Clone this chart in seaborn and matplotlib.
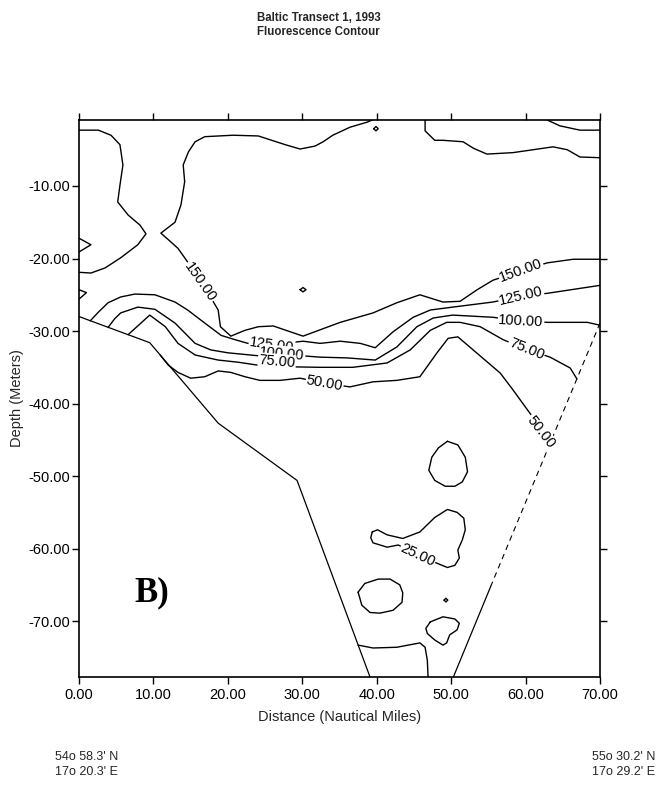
import matplotlib
matplotlib.use("Agg")
import matplotlib.pyplot as plt
import numpy as np
import pandas as pd
import seaborn as sns

# ---------------------------------------------------------------
# Baltic transect 1 (1993): fluorescence isolines along the section
# distance in nautical miles, depth in metres (negative down)
# ---------------------------------------------------------------

levels = [25, 50, 75, 100, 125, 150]

x_ticks = [0, 10, 20, 30, 40, 50, 60, 70]
y_ticks = [-10, -20, -30, -40, -50, -60, -70]

# sea floor along the western and eastern flanks of the section
seafloor_west_dist = [0.0, 9.5, 18.7, 29.3, 39.1]
seafloor_west_depth = [-28.0, -31.6, -42.7, -50.6, -77.7]
seafloor_east_dist = [70.0, 55.4, 50.3]
seafloor_east_depth = [-28.9, -65.0, -77.7]

# 150 isolines
iso150_west_x = [0.0, 2.6, 4.3, 5.5, 5.9, 5.5, 5.2, 6.6, 8.2, 9.0, 7.9, 5.6, 3.5, 1.6, 0.0]
iso150_west_y = [-2.3, -2.3, -3.0, -4.3, -7.1, -9.9, -12.2, -14.0, -15.4, -16.6, -18.1, -19.9, -21.3, -22.0, -21.9]
iso150_main_x = [39.4, 38.7, 36.4, 34.1, 32.8, 31.7, 29.7, 27.7, 24.1, 20.7, 16.9, 15.6, 14.7, 14.0,
                 14.2, 13.7, 12.9, 11.0, 12.0, 13.3, 14.2, 16.5, 18.7, 19.0, 20.4, 22.3, 24.1, 26.1,
                 30.1, 35.1, 39.5, 42.7, 45.8, 48.9, 51.2, 53.5, 55.6, 59.4, 62.9, 66.4, 70.0]
iso150_main_y = [-0.9, -1.2, -1.9, -3.0, -3.9, -4.5, -4.9, -4.3, -3.1, -3.0, -3.2, -3.9, -5.3, -7.1,
                 -9.4, -12.6, -15.0, -16.5, -17.4, -18.6, -19.9, -23.3, -27.1, -29.4, -30.7, -29.9, -29.4, -29.3,
                 -30.7, -28.8, -27.5, -26.1, -25.0, -26.0, -25.9, -24.3, -23.0, -21.7, -20.6, -20.1, -20.1]
iso150_east_x = [46.5, 46.5, 47.8, 48.9, 51.6, 53.0, 54.8, 58.3, 63.7, 65.6, 67.3, 70.0]
iso150_east_y = [-0.9, -2.4, -3.7, -3.7, -3.9, -4.8, -5.6, -5.4, -4.6, -5.0, -6.0, -6.1]
iso150_notch1_x = [0.0, 1.6, 0.0]
iso150_notch1_y = [-17.2, -18.1, -19.1]
iso150_notch2_x = [0.0, 1.0, 0.0]
iso150_notch2_y = [-24.3, -24.7, -25.6]
iso150_spot1_x = [39.6, 39.9, 40.2, 39.9]
iso150_spot1_y = [-2.1, -1.8, -2.1, -2.4]
iso150_spot2_x = [29.7, 30.1, 30.5, 30.1]
iso150_spot2_y = [-24.3, -24.0, -24.3, -24.6]

# 125 isolines
iso125_corner_x = [62.9, 64.6, 67.3, 70.0]
iso125_corner_y = [-0.9, -1.7, -2.3, -2.3]
iso125_x = [1.5, 2.6, 3.9, 5.6, 7.5, 10.2, 12.9, 14.6, 16.9, 19.1, 21.0, 22.7, 25.9, 30.1, 32.4,
            35.1, 37.8, 39.8, 42.2, 44.9, 47.2, 50.2, 55.6, 59.4, 62.9, 70.0]
iso125_y = [-28.6, -27.4, -26.1, -25.3, -24.9, -25.0, -26.0, -27.1, -28.9, -30.6, -31.2, -31.7, -31.9, -31.4, -31.7,
            -31.4, -31.7, -32.3, -30.1, -28.1, -27.1, -26.7, -26.0, -25.2, -24.8, -23.7]

# 100 isoline
iso100_x = [3.9, 4.8, 5.6, 7.9, 10.2, 12.9, 15.6, 17.7, 20.0, 24.0, 27.3, 32.4, 36.0, 39.8,
            42.7, 45.4, 47.6, 50.2, 55.6, 59.4, 62.9, 68.3, 70.0]
iso100_y = [-29.5, -28.3, -27.5, -26.7, -27.0, -28.9, -31.7, -32.6, -33.0, -33.4, -33.2, -33.6, -33.7, -34.0,
            -32.2, -29.4, -28.2, -27.8, -28.1, -28.6, -28.8, -28.8, -29.2]

# 75 isoline
iso75_x = [6.6, 9.5, 11.6, 13.3, 15.6, 18.7, 21.4, 24.0, 26.6, 32.4, 36.8, 41.4, 44.5, 47.2,
           49.4, 51.2, 53.9, 57.0, 60.1, 63.3, 66.0, 66.9]
iso75_y = [-30.5, -27.8, -29.4, -31.7, -33.3, -34.0, -34.3, -34.7, -34.9, -35.0, -35.0, -34.4, -32.6, -29.9,
           -28.8, -28.8, -29.4, -31.2, -32.5, -33.6, -35.1, -36.6]

# 50 isoline
iso50_x = [10.9, 12.0, 13.3, 15.0, 16.9, 18.7, 20.4, 22.3, 24.3, 27.0, 29.7, 33.0, 36.4, 39.5,
           42.7, 45.8, 48.1, 49.6, 50.9, 52.5, 56.6, 58.3, 59.5, 61.2, 63.4]
iso50_y = [-33.3, -34.7, -35.7, -36.5, -36.3, -35.5, -35.7, -36.3, -36.8, -36.8, -36.5, -37.2, -37.7, -37.0,
           -36.8, -36.3, -33.0, -31.0, -30.8, -32.2, -35.8, -38.1, -39.8, -42.2, -45.3]

# 25 isolines (deep patches)
iso25_patch1_x = [49.5, 50.9, 51.9, 52.2, 51.5, 50.5, 49.2, 47.8, 47.0, 47.4, 48.3]
iso25_patch1_y = [-45.2, -45.7, -47.4, -49.4, -50.8, -51.4, -51.4, -50.6, -49.2, -47.4, -46.1]
iso25_patch2_x = [39.4, 40.1, 41.4, 43.5, 45.8, 47.8, 49.5, 50.8, 51.7, 51.9, 51.5, 50.9, 51.1, 50.5,
                  49.5, 48.3, 45.6, 42.9, 41.4, 39.5, 39.2]
iso25_patch2_y = [-57.7, -57.4, -58.1, -58.6, -57.7, -55.7, -54.6, -55.0, -55.8, -57.4, -58.8, -60.2, -61.3, -62.3,
                  -62.6, -62.1, -60.9, -59.5, -59.8, -59.2, -58.5]
iso25_patch3_x = [37.5, 38.4, 40.2, 41.8, 43.1, 43.5, 43.4, 42.2, 40.4, 39.1, 38.0]
iso25_patch3_y = [-66.0, -64.8, -64.2, -64.2, -65.0, -66.1, -67.4, -68.5, -68.9, -68.8, -67.8]
iso25_patch4_x = [47.2, 48.9, 50.5, 51.1, 50.8, 49.8, 49.4, 48.9, 47.8, 46.8, 46.6]
iso25_patch4_y = [-70.1, -69.4, -69.7, -70.3, -71.2, -71.9, -73.0, -73.3, -72.6, -71.7, -71.0]
iso25_spot_x = [49.05, 49.3, 49.55, 49.3]
iso25_spot_y = [-67.1, -66.85, -67.1, -67.35]
iso25_floor_x = [37.5, 39.5, 42.7, 45.8, 46.5, 46.8, 46.9]
iso25_floor_y = [-73.3, -73.7, -73.6, -73.0, -73.6, -75.4, -77.7]

# isoline labels: level, distance, depth, angle
label_level = [150, 150, 125, 125, 100, 100, 75, 75, 50, 50, 25]
label_dist = [16.3, 59.4, 25.9, 59.4, 27.3, 59.4, 26.6, 60.1, 33.0, 62.0, 45.5]
label_depth = [-23.2, -21.7, -31.9, -25.2, -33.1, -28.6, -34.2, -32.5, -37.2, -43.9, -60.9]
label_angle = [-55, 20, -8, 13, -5, -3, -5, -22, -10, -52, -25]

# ---------------------------------------------------------------
segments = [
    (150, iso150_west_x, iso150_west_y, False),
    (150, iso150_main_x, iso150_main_y, False),
    (150, iso150_east_x, iso150_east_y, False),
    (150, iso150_notch1_x, iso150_notch1_y, False),
    (150, iso150_notch2_x, iso150_notch2_y, False),
    (150, iso150_spot1_x, iso150_spot1_y, True),
    (150, iso150_spot2_x, iso150_spot2_y, True),
    (125, iso125_corner_x, iso125_corner_y, False),
    (125, iso125_x, iso125_y, False),
    (100, iso100_x, iso100_y, False),
    (75, iso75_x, iso75_y, False),
    (50, iso50_x, iso50_y, False),
    (25, iso25_patch1_x, iso25_patch1_y, True),
    (25, iso25_patch2_x, iso25_patch2_y, True),
    (25, iso25_patch3_x, iso25_patch3_y, True),
    (25, iso25_patch4_x, iso25_patch4_y, True),
    (25, iso25_spot_x, iso25_spot_y, True),
    (25, iso25_floor_x, iso25_floor_y, False),
]

rows = []
for seg_id, (lvl, xs, ys, closed) in enumerate(segments):
    xs = list(xs)
    ys = list(ys)
    if closed:
        xs.append(xs[0])
        ys.append(ys[0])
    for order, (xv, yv) in enumerate(zip(xs, ys)):
        rows.append({"segment": seg_id, "level": lvl, "order": order,
                     "distance": xv, "depth": yv})
iso = pd.DataFrame(rows)

sns.set_theme(style="ticks")
plt.rcParams["font.family"] = ["Liberation Sans", "DejaVu Sans"]

fig = plt.figure(figsize=(6.64, 7.92), dpi=100)
ax = fig.add_axes([79 / 664, 1 - 677 / 792, (600 - 79) / 664, (677 - 120) / 792])

sns.lineplot(data=iso, x="distance", y="depth", units="segment", estimator=None,
             sort=False, color="black", linewidth=1.0, ax=ax, legend=False)

# sea floor outlines
west = pd.DataFrame({"distance": seafloor_west_dist, "depth": seafloor_west_depth})
sns.lineplot(data=west, x="distance", y="depth", sort=False, estimator=None,
             color="black", linewidth=0.9, ax=ax)
east = pd.DataFrame({"distance": seafloor_east_dist, "depth": seafloor_east_depth})
sns.lineplot(data=east.iloc[:2], x="distance", y="depth", sort=False, estimator=None,
             color="black", linewidth=0.8, dashes=False, ax=ax)
ax.lines[-1].set_linestyle((0, (5, 4)))
sns.lineplot(data=east.iloc[1:], x="distance", y="depth", sort=False, estimator=None,
             color="black", linewidth=0.9, ax=ax)

for lvl, xv, yv, ang in zip(label_level, label_dist, label_depth, label_angle):
    ax.text(xv, yv, f"{lvl:.2f}", rotation=ang, rotation_mode="anchor",
            ha="center", va="center", fontsize=10.5, color="black", zorder=5,
            bbox=dict(boxstyle="square,pad=0.05", fc="white", ec="none"))

ax.text(9.8, -66.1, "B)", family=["Liberation Serif", "DejaVu Serif"], fontweight="bold",
        fontsize=25, ha="center", va="center", color="black")

ax.set_xlim(0, 70)
ax.set_ylim(-77.7, -0.9)
ax.set_xticks(x_ticks)
ax.set_xticklabels([f"{v:.2f}" for v in x_ticks])
ax.set_yticks(y_ticks)
ax.set_yticklabels([f"{v:.2f}" for v in y_ticks])
ax.tick_params(axis="both", direction="out", length=5, width=1.0, colors="black",
               labelsize=10.5, top=True, right=True, labeltop=False, labelright=False)
ax.tick_params(axis="y", pad=1.5)
ax.tick_params(axis="x", pad=3)
ax.set_xlabel("Distance (Nautical Miles)", fontsize=10.5, labelpad=6)
ax.set_ylabel("Depth (Meters)", fontsize=10.5, labelpad=3)
for sp in ax.spines.values():
    sp.set_visible(True)
    sp.set_color("black")
    sp.set_linewidth(1.2)
ax.set_facecolor("white")
ax.grid(False)

fig.text(257 / 664, 1 - 18 / 792, "Baltic Transect 1, 1993", fontsize=8.3,
         fontweight="bold", ha="left", va="center")
fig.text(257 / 664, 1 - 32 / 792, "Fluorescence Contour", fontsize=8.3,
         fontweight="bold", ha="left", va="center")

fig.text(55 / 664, 1 - 757 / 792, "54o 58.3' N", fontsize=9, ha="left", va="center")
fig.text(55 / 664, 1 - 772 / 792, "17o 20.3' E", fontsize=9, ha="left", va="center")
fig.text(655 / 664, 1 - 757 / 792, "55o 30.2' N", fontsize=9, ha="right", va="center")
fig.text(655 / 664, 1 - 772 / 792, "17o 29.2' E", fontsize=9, ha="right", va="center")

fig.savefig("out.png", dpi=100, facecolor="white")
